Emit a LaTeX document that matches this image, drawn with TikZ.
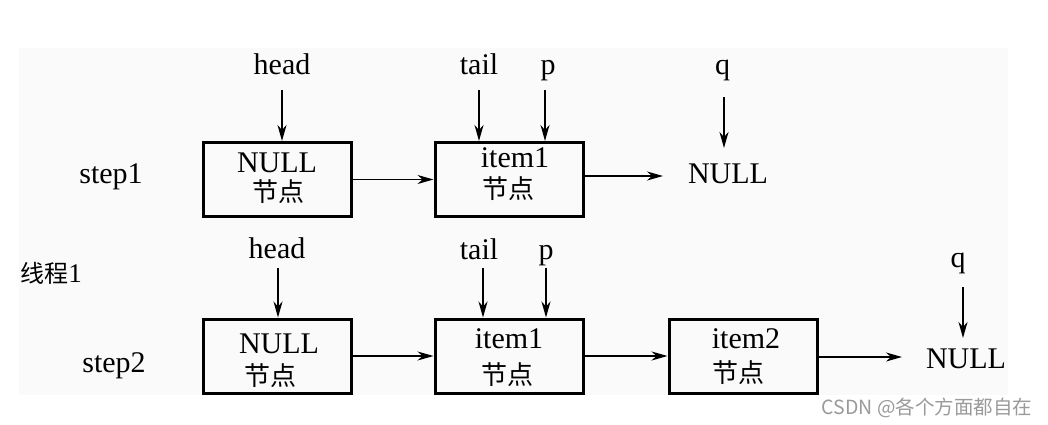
\documentclass[tikz,border=0pt]{standalone}
\usepackage{fontspec}
\setmainfont{Liberation Serif}
\newfontfamily\cjk{Noto Sans CJK SC}
\usetikzlibrary{arrows.meta}
\definecolor{bgpanel}{HTML}{FAFAFA}
\definecolor{wmgray}{HTML}{9A9A9A}
\begin{document}
\begin{tikzpicture}[x=1pt,y=-1pt,
  lbl/.style={anchor=base,inner sep=0pt,font=\fontsize{30}{30}\selectfont},
  zh/.style={anchor=base,inner sep=0pt,font=\cjk\fontsize{26}{26}\selectfont},
  nodebox/.style={draw,line width=3pt,minimum width=148pt,minimum height=74pt,inner sep=0pt},
  ptr/.style={line width=1.5pt,-{Stealth[length=16pt,width=9pt,inset=5pt]}}
]
\useasboundingbox (0,0) rectangle (1048,425);
\fill[white] (0,0) rectangle (1048,425);
\fill[bgpanel] (19,48) rectangle (1008,395);

% ---------- step 1 ----------
\node[lbl] (s1) at (111,183) {step1};
\node[nodebox] (b11) at (277.5,179.5) {};
\node[lbl] (b11t) at (277,172) {NULL};
\node[zh]  (b11z) at (278,201) {节点};
\node[nodebox] (b12) at (509,179.5) {};
\node[lbl] (b12t) at (515,167) {item1};
\node[zh]  (b12z) at (508,198) {节点};
\node[lbl] (n1) at (728,183) {NULL};

\node[lbl] (h1) at (282,75) {head};
\node[lbl] (t1) at (479,75) {tail};
\node[lbl] (p1) at (548,75) {p};
\node[lbl] (q1) at (722.5,75) {q};

\coordinate (h1s) at (282,90);
\coordinate (t1s) at (479,90);
\coordinate (p1s) at (545,90);
\coordinate (q1s) at (724,97);
\coordinate (q1e) at (724,148);
\coordinate (o1e) at (663,176);

\draw[ptr] (h1s) -- (h1s |- b11.north);
\draw[ptr] (t1s) -- (t1s |- b12.north);
\draw[ptr] (p1s) -- (p1s |- b12.north);
\draw[ptr] (q1s) -- (q1e);
\draw[ptr] (b11.east) -- (b12.west);
\draw[ptr] (b12.east |- o1e) -- (o1e);

% ---------- thread label ----------
\node[anchor=base,inner sep=0pt] (th) at (51,282)
  {{\cjk\fontsize{24}{24}\selectfont 线程}{\fontsize{27}{27}\selectfont 1}};

% ---------- step 2 ----------
\node[lbl] (s2) at (114,372) {step2};
\node[nodebox] (b21) at (277.5,356) {};
\node[lbl] (b21t) at (279,353) {NULL};
\node[zh]  (b21z) at (270,385) {节点};
\node[nodebox] (b22) at (509,356) {};
\node[lbl] (b22t) at (509,348) {item1};
\node[zh]  (b22z) at (507,384) {节点};
\node[nodebox] (b23) at (743,356) {};
\node[lbl] (b23t) at (746,348) {item2};
\node[zh]  (b23z) at (738,382) {节点};
\node[lbl] (n2) at (966,368) {NULL};

\node[lbl] (h2) at (277,258) {head};
\node[lbl] (t2) at (479,259) {tail};
\node[lbl] (p2) at (546,259) {p};
\node[lbl] (q2) at (958,267) {q};

\coordinate (h2s) at (278,268);
\coordinate (t2s) at (483,268);
\coordinate (p2s) at (546,268);
\coordinate (q2s) at (963,287);
\coordinate (q2e) at (963,338);
\coordinate (o2e) at (902,357);

\draw[ptr] (h2s) -- (h2s |- b21.north);
\draw[ptr] (t2s) -- (t2s |- b22.north);
\draw[ptr] (p2s) -- (p2s |- b22.north);
\draw[ptr] (q2s) -- (q2e);
\draw[ptr] (b21.east) -- (b22.west);
\draw[ptr] (b22.east) -- (b23.west);
\draw[ptr] (b23.east |- o2e) -- (o2e);

% ---------- watermark ----------
\node[anchor=base,inner sep=0pt,text=wmgray,font=\cjk\fontsize{19.5}{19.5}\selectfont] (wm) at (927,414)
  {CSDN @各个方面都自在};
\end{tikzpicture}
\end{document}
